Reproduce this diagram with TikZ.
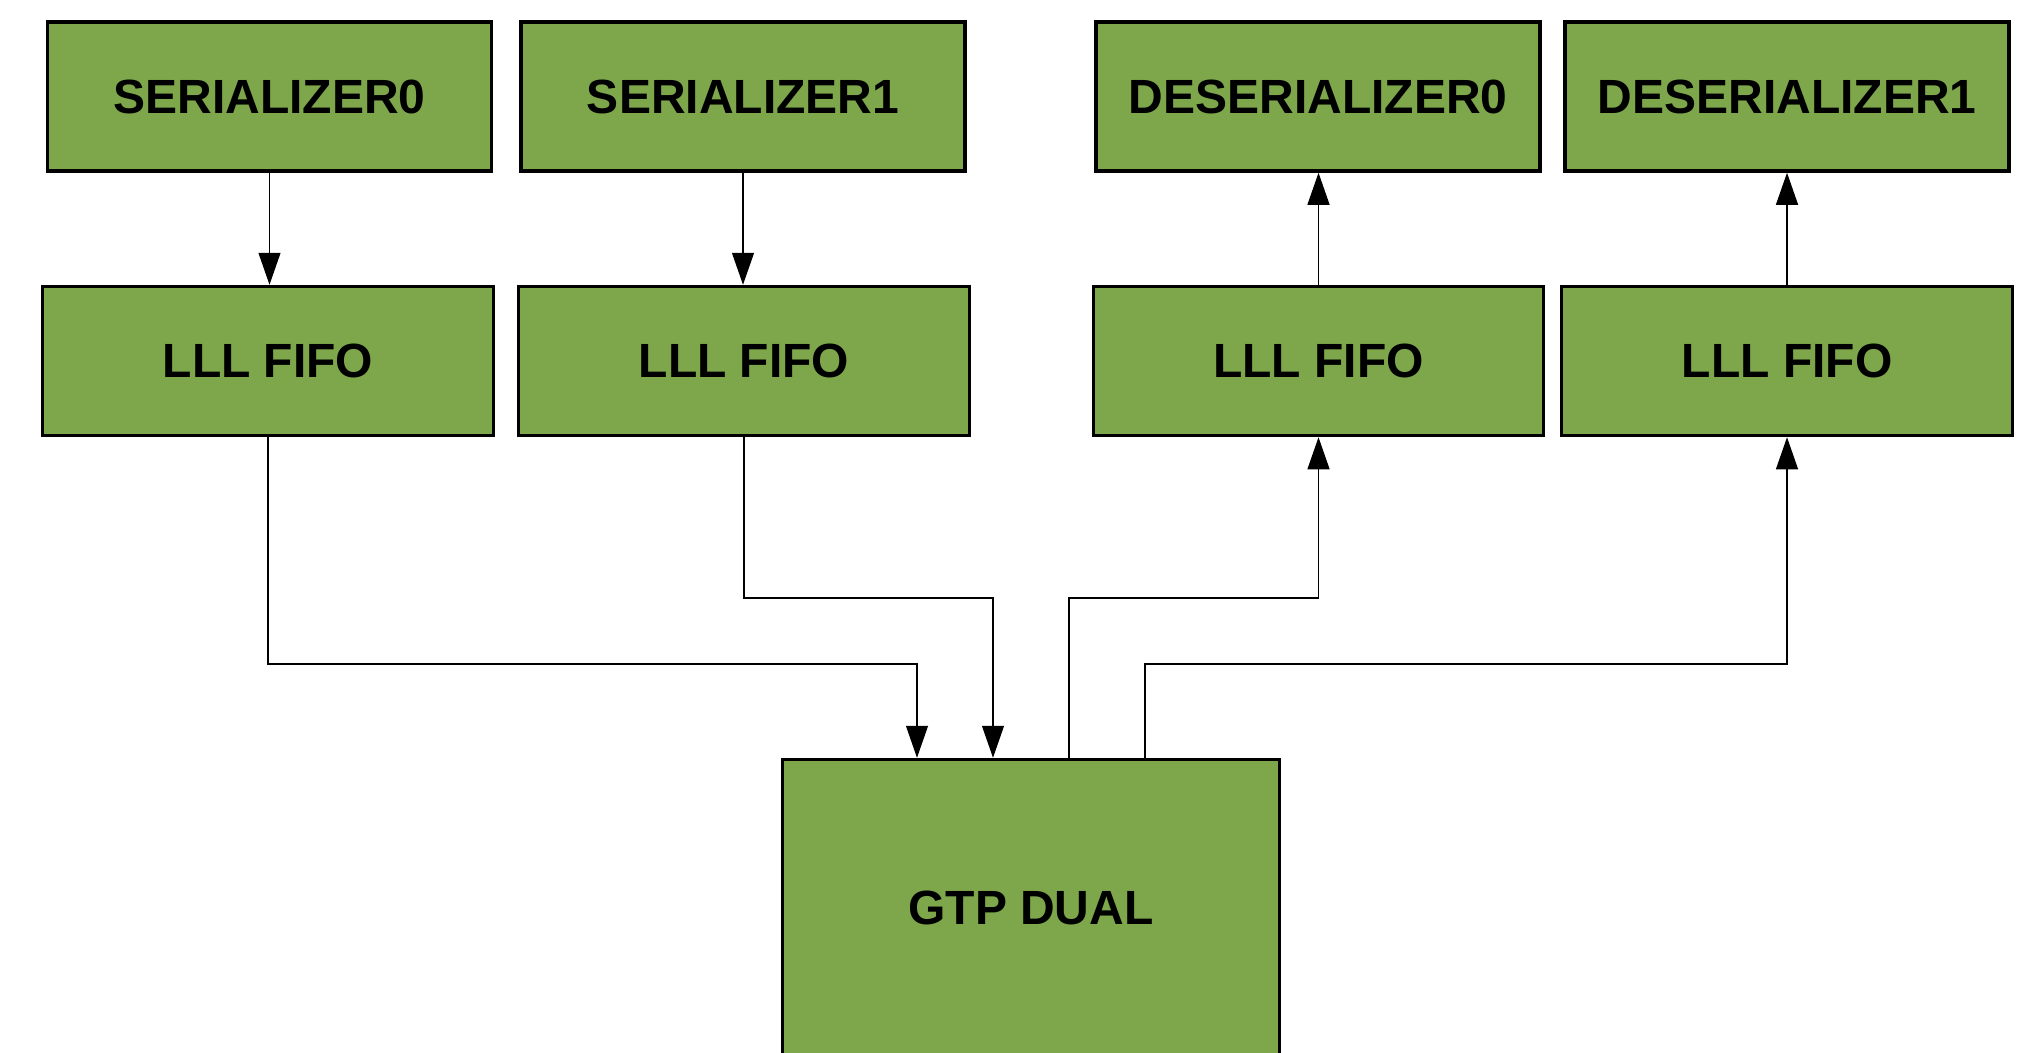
\documentclass[tikz,border=0pt]{standalone}
\usepackage{fontspec}
\setmainfont{Liberation Sans}
\usetikzlibrary{arrows.meta,calc}

\definecolor{blockgreen}{RGB}{126,166,74}

\tikzset{
  block/.style={draw=black, fill=blockgreen, line width=3.5pt,
    inner sep=0pt, font=\bfseries\fontsize{48}{58}\selectfont,
    minimum width=#1, minimum height=149pt},
  block/.default=444pt,
  link/.style={draw=black, line width=1.2pt,
    -{Triangle[length=32pt,width=22pt]}}
}

\begin{document}
\begin{tikzpicture}[x=1pt,y=-1pt]
  \useasboundingbox (0,0) rectangle (2017,1052);

  % top row: serializers and deserializers
  \node[block] (ser0) at (269.5,96.5) {SERIALIZER0};
  \node[block] (ser1) at (743,96.5) {SERIALIZER1};
  \node[block] (des0) at (1318,96.5) {DESERIALIZER0};
  \node[block] (des1) at (1787,96.5) {DESERIALIZER1};

  % FIFO row
  \node[block=451pt] (fifo0) at (268,361) {LLL FIFO};
  \node[block=451pt] (fifo1) at (744,361) {LLL FIFO};
  \node[block=450pt] (fifo2) at (1318.5,361) {LLL FIFO};
  \node[block=451pt] (fifo3) at (1787,361) {LLL FIFO};

  % transceiver block, running past the lower edge
  \node[block=497pt, minimum height=297pt] (gtp) at (1031,908) {GTP DUAL};

  % ports on the top of the transceiver
  \coordinate (p0) at ($(gtp.north)+(-114,0)$);
  \coordinate (p1) at ($(gtp.north)+(-38,0)$);
  \coordinate (p2) at ($(gtp.north)+(38,0)$);
  \coordinate (p3) at ($(gtp.north)+(114,0)$);
  \coordinate (busA) at (0,664);
  \coordinate (busB) at (0,598);

  % serializer -> FIFO
  \draw[link] (ser0.south) -- (ser0.south |- fifo0.north);
  \draw[link] (ser1.south) -- (ser1.south |- fifo1.north);
  % FIFO -> deserializer
  \draw[link] (fifo2.north) -- (fifo2.north |- des0.south);
  \draw[link] (fifo3.north) -- (fifo3.north |- des1.south);

  % transmit FIFOs -> transceiver
  \draw[link] (fifo0.south) -- (fifo0.south |- busA) -| (p0);
  \draw[link] (fifo1.south) -- (fifo1.south |- busB) -| (p1);
  % transceiver -> receive FIFOs
  \draw[link] (p2) |- (busB -| fifo2.south) -- (fifo2.south);
  \draw[link] (p3) |- (busA -| fifo3.south) -- (fifo3.south);
\end{tikzpicture}
\end{document}
